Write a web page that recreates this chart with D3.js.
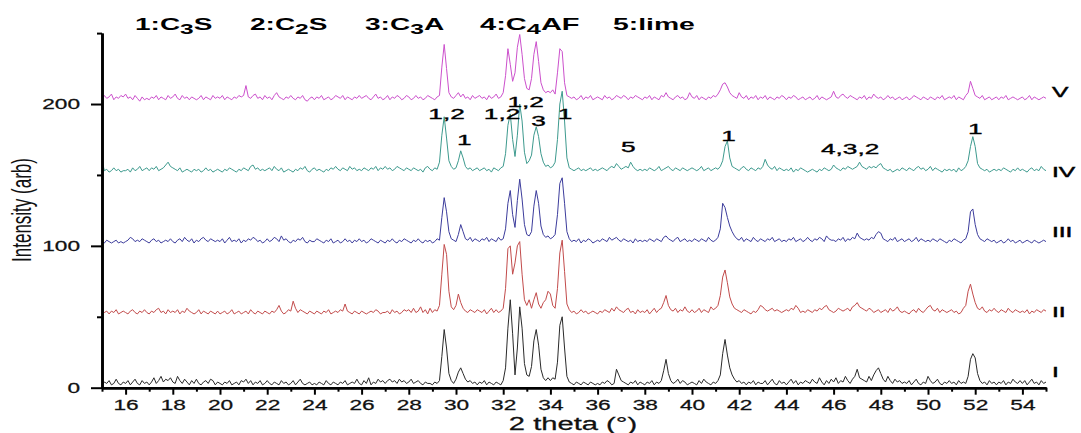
<!DOCTYPE html>
<html><head><meta charset="utf-8">
<script src="https://cdn.jsdelivr.net/npm/d3@7"></script>
<style>body{margin:0;background:#fff}svg{display:block}text{font-family:"Liberation Sans",Arial,sans-serif}</style>
</head><body><svg id="c" width="1081" height="433"></svg>
<script>
// ---- data ----
const thetaStart = 15, thetaStep = 0.1;             // 2theta sampling (deg)
const seriesNames = ["I", "II", "III", "IV", "V"];
const seriesOffsets = [0, 50, 100, 150, 200];        // vertical stacking offsets
// intensities (arb) per 0.1 deg, rows = 1 deg (15.0 ... 54.9), last = 55.0
const patternI = [
2,4,3,5,2,3,6,3,2,4, 3,5,2,4,6,3,2,5,3,4, 2,4,7,3,5,8,4,6,5,7, 4,3,8,5,3,6,4,2,5,3,
6,3,2,4,5,3,6,5,2,4, 3,2,4,3,5,2,3,4,2,5, 4,6,3,5,2,4,3,5,2,3, 5,3,2,4,3,2,5,3,4,2,
3,5,2,4,6,3,2,3,4,2, 3,2,4,3,2,5,3,2,4,3, 2,4,3,5,2,3,4,3,6,3, 2,5,3,7,2,4,3,6,4,5,
3,5,6,4,5,3,6,4,5,3, 4,6,3,4,5,3,2,4,3,3, 2,4,3,5,22,41,28,10,5,3, 6,11,14,10,6,4,5,3,4,2,
4,3,5,2,4,3,2,4,3,2, 5,14,42,62,38,9,28,57,42,17, 9,8,15,33,41,30,13,7,5,7, 5,7,6,18,44,50,28,8,4,3,
2,4,3,2,4,3,2,4,3,2, 3,2,4,3,5,4,2,3,13,9, 5,4,3,2,4,3,5,2,4,3, 2,4,3,5,2,4,3,5,12,20,
10,5,3,4,6,3,5,4,2,3, 4,3,2,5,3,6,4,3,2,4, 3,5,9,24,34,23,14,9,6,4, 5,3,4,2,4,3,5,2,4,3,
3,5,2,4,6,3,2,5,3,4, 2,4,6,3,5,2,4,3,5,4, 3,6,4,3,7,4,2,5,3,6, 4,7,3,5,4,8,5,3,6,8,
13,7,6,5,4,8,5,9,12,14, 10,6,4,8,5,3,6,4,5,3, 4,3,5,2,4,6,3,2,4,3, 8,5,3,4,6,3,2,4,3,5,
3,4,2,5,3,4,3,8,20,24, 21,10,5,3,4,2,5,3,4,2, 4,3,5,2,4,3,6,4,3,5, 3,5,2,4,6,3,4,2,5,3,
4];
const patternII = [
5,3,4,2,4,3,5,2,3,4, 3,2,4,5,3,2,4,3,5,3, 2,4,3,5,6,3,4,2,5,3, 4,3,5,2,4,3,6,4,3,2,
3,5,2,4,3,2,4,3,2,4, 2,3,4,2,3,5,2,3,4,2, 3,4,2,5,3,2,4,3,2,4, 3,2,4,3,5,8,4,2,3,5,
4,11,6,3,5,4,3,2,4,3, 2,4,3,2,4,3,5,2,3,4, 3,5,4,9,4,3,2,4,3,2, 4,3,2,3,4,3,5,4,2,3,
3,4,2,5,3,4,2,3,5,4, 5,3,6,3,4,7,3,5,2,6, 3,5,4,8,30,51,44,18,7,5, 8,16,10,6,4,3,5,4,3,5,
4,3,5,2,4,6,3,5,3,4, 6,20,48,50,30,38,50,53,30,12, 8,12,6,12,17,9,6,10,12,18, 16,8,6,20,45,54,32,9,5,3,
4,2,3,5,3,4,2,3,4,3, 2,4,3,5,4,3,6,4,7,5, 4,3,5,6,3,4,2,5,3,4, 3,5,2,4,6,3,5,6,10,15,
8,5,4,6,3,5,4,7,4,3, 5,3,4,6,3,5,4,3,7,5, 6,8,15,28,33,24,14,9,6,5, 4,3,5,4,3,2,4,3,5,8,
7,5,4,5,6,4,5,4,3,4, 5,4,6,5,8,6,3,4,3,5, 4,3,5,4,6,5,7,8,5,4, 3,4,6,5,4,5,6,4,7,8,
10,7,6,5,4,6,5,3,4,5, 3,4,5,3,6,4,5,7,4,3, 4,3,2,4,5,3,6,4,3,5, 7,8,5,4,6,3,5,4,3,4,
5,3,4,2,3,6,8,18,23,16, 10,6,5,7,4,3,5,4,6,4, 3,5,4,3,6,4,3,5,4,3, 4,3,5,2,4,3,5,4,3,5,
4];
const patternIII = [
3,2,4,3,2,3,4,2,3,2, 3,4,6,5,3,4,3,5,4,3, 2,4,5,3,4,2,3,4,3,5, 3,2,4,5,3,6,4,3,5,2,
4,3,5,6,4,3,5,4,3,4, 3,5,2,4,6,3,4,3,5,2, 4,3,5,4,6,5,3,4,2,3, 5,3,4,6,5,3,7,4,5,3,
2,4,3,5,4,6,3,2,4,3, 3,5,4,3,2,4,3,5,2,3, 4,2,3,5,3,4,2,4,3,5, 3,4,2,3,5,4,3,2,4,3,
2,4,3,5,3,2,4,3,5,4, 3,2,4,3,5,3,2,4,3,4, 2,3,5,4,20,34,24,10,5,4, 3,8,15,10,5,4,6,3,5,4,
3,5,4,6,3,5,4,3,6,4, 5,12,30,39,22,13,32,47,33,15, 8,7,10,28,39,30,14,8,6,7, 5,6,8,22,44,48,30,10,5,3,
4,3,5,2,4,3,5,4,2,3, 4,3,5,4,3,6,4,5,6,4, 3,5,4,3,4,2,5,3,4,3, 4,3,5,4,3,5,4,3,6,7,
5,4,3,5,6,3,4,5,3,4, 3,5,4,3,5,4,3,6,4,3, 4,6,12,30,27,20,14,10,7,5, 4,6,3,5,4,3,6,4,3,5,
4,3,5,4,6,3,4,5,3,4, 3,5,4,6,3,4,5,3,4,6, 4,3,5,4,6,5,3,7,5,4, 4,3,5,4,6,3,5,4,6,5,
9,6,5,4,5,4,6,5,8,10, 9,5,4,3,5,4,6,3,4,5, 3,4,5,3,4,6,3,5,4,3, 4,3,5,4,3,5,4,3,2,4,
3,5,4,3,2,4,5,10,24,26, 15,8,5,4,3,5,4,3,4,2, 3,4,2,3,5,3,4,2,3,4, 2,3,4,3,2,4,3,2,3,4,
3];
const patternIV = [
10,3,4,2,3,5,3,4,2,3, 3,4,2,5,3,4,6,3,4,5, 3,5,4,6,3,4,5,7,9,6, 5,4,3,5,2,3,4,3,2,4,
3,4,2,3,5,3,4,2,3,4, 3,2,4,3,5,4,3,2,4,3, 5,4,3,6,7,4,5,3,4,3, 4,5,3,6,4,3,5,2,3,4,
3,2,4,3,5,4,6,3,2,4, 5,3,4,3,2,4,3,5,4,6, 4,3,5,4,3,6,4,5,3,4, 3,5,4,3,5,4,6,3,5,4,
6,4,5,3,4,6,5,4,3,5, 4,3,5,4,3,4,2,5,6,4, 3,5,4,9,28,41,26,10,6,4, 5,10,17,12,6,4,5,3,4,5,
3,4,5,3,4,2,5,4,3,5, 6,15,35,43,25,13,28,50,38,16, 8,10,14,28,34,27,15,9,6,7, 5,6,9,25,50,59,38,12,5,4,
3,4,5,3,4,3,4,5,3,4, 3,4,5,4,3,5,6,5,8,6, 4,5,6,5,9,6,4,3,4,3, 4,3,5,4,3,4,6,3,4,5,
6,4,3,5,4,3,5,4,3,4, 5,4,3,4,6,3,4,5,3,4, 5,4,6,10,20,24,12,6,5,4, 3,5,6,4,3,5,4,3,5,4,
6,11,7,5,4,6,3,5,4,3, 4,3,5,2,4,3,5,4,3,2, 3,4,3,2,4,3,5,4,3,4, 7,5,4,3,5,4,6,5,4,5,
6,9,6,5,4,6,5,6,5,7, 8,5,4,3,4,2,3,4,3,5, 4,3,5,4,3,5,6,4,5,3, 4,6,3,5,4,3,2,4,3,4,
3,4,2,5,3,4,6,10,20,27, 20,8,5,4,3,4,2,3,4,3, 4,3,5,4,3,2,4,3,5,3, 4,3,2,4,5,3,4,3,6,4,
3];
const patternV = [
3,6,4,5,7,3,5,4,6,5, 7,4,5,3,6,4,2,5,3,4, 3,5,4,6,3,5,4,3,6,4, 5,7,4,3,6,4,5,3,5,4,
3,4,6,3,5,4,3,6,4,5, 4,6,3,5,4,3,5,4,6,5, 6,13,5,4,6,7,4,5,3,6, 4,5,3,6,8,5,4,3,5,4,
6,4,3,5,4,6,3,2,4,5, 3,5,4,6,3,4,5,3,4,6, 5,4,6,3,5,4,3,5,4,6, 4,5,6,4,3,5,7,4,5,3,
4,6,3,5,4,6,5,3,4,6, 5,3,4,6,4,5,3,4,6,5, 4,3,5,6,26,42,25,8,5,4, 6,8,5,7,4,5,3,6,4,5,
6,4,5,3,6,4,5,7,4,5, 8,20,39,28,16,22,40,49,35,18, 11,10,18,35,44,30,15,10,8,9, 8,10,7,22,39,37,15,6,5,4,
5,3,4,6,3,5,4,6,3,4, 5,4,3,6,4,5,3,4,6,5, 4,6,5,3,5,4,6,5,4,3, 5,4,6,3,5,4,3,6,5,8,
5,4,3,5,6,4,5,3,4,8, 5,4,6,3,5,4,3,5,4,6, 5,7,10,14,15,12,8,6,5,4, 8,5,4,6,3,5,4,6,3,5,
4,6,3,5,4,3,5,4,6,5, 3,5,4,6,5,3,4,5,3,4, 5,3,4,6,3,5,4,3,4,5, 9,5,4,6,7,5,4,6,5,4,
3,5,4,6,3,5,4,7,5,4, 5,3,4,6,4,5,3,4,5,3, 4,5,3,4,6,5,4,3,5,4, 3,5,4,3,5,4,6,3,4,5,
4,6,3,5,4,3,6,8,16,11, 6,5,4,6,3,4,5,3,4,5, 3,5,4,6,3,4,5,4,3,4, 5,3,4,6,3,5,4,3,4,5,
4];
const patterns = [patternI, patternII, patternIII, patternIV, patternV];

const xTicksMajor = [16,18,20,22,24,26,28,30,32,34,36,38,40,42,44,46,48,50,52,54];
const xTicksMinor = [15,17,19,21,23,25,27,29,31,33,35,37,39,41,43,45,47,49,51,53,55];
const yTicksMajor = [0, 100, 200];
const yTicksMinor = [50, 150, 250];

const legendParts = [["1:C","3","S"], ["2:C","2","S"], ["3:C","3","A"], ["4:C","4","AF"], ["5:lime"]];
// phase labels over the peaks of pattern IV: [label, 2theta, intensity]
const peakLabelText = ["1,2", "1", "1,2", "1,2", "3", "1", "5", "1", "4,3,2", "1"];
const peakLabelTheta = [29.6, 30.35, 31.95, 32.95, 33.5, 34.62, 37.3, 41.55, 46.7, 52.0];
const peakLabelInt = [189.5, 171, 189.5, 198, 184.5, 189.5, 166.5, 174, 164.5, 179];
// series name labels at right
const nameLabelInt = [7.5, 49.8, 106.2, 148.5, 205];

// ---- styles ----
const colors = ["#2a2a2a", "#c24b4b", "#3c3c9c", "#3d9a8e", "#cc50cc"];
const SX = 1.62;  // horizontal stretch of the reference's lettering

const svg = d3.select("#c");
const x = d3.scaleLinear().domain([15, 55]).range([102, 1046]);
const y = d3.scaleLinear().domain([0, 250]).range([387.7, 33.1]);

// traces
const line = d3.line();
patterns.forEach((p, k) => {
  const pts = p.map((v, i) => [x(thetaStart + i * thetaStep), y(v + seriesOffsets[k])]);
  svg.append("path").attr("d", line(pts)).attr("fill", "none")
    .attr("stroke", colors[k]).attr("stroke-width", 1).attr("stroke-linejoin", "round");
});

function stretchTexts(sel, sx) {
  sel.each(function () {
    const t = d3.select(this);
    const xx = +t.attr("x") || 0, yy = +t.attr("y") || 0;
    t.attr("x", 0).attr("y", 0).attr("transform", `translate(${xx},${yy}) scale(${sx},1)`);
  });
}

// x axis
const gxMin = svg.append("g").attr("transform", `translate(0,${y(0)})`)
  .call(d3.axisBottom(x).tickValues(xTicksMinor).tickSize(4).tickFormat("").tickSizeOuter(0));
const gx = svg.append("g").attr("transform", `translate(0,${y(0)})`)
  .call(d3.axisBottom(x).tickValues(xTicksMajor).tickSize(7).tickPadding(5).tickSizeOuter(0));
// y axis
const gyMin = svg.append("g").attr("transform", `translate(${x(15)},0)`)
  .call(d3.axisLeft(y).tickValues(yTicksMinor).tickSize(5).tickFormat("").tickSizeOuter(0));
const gy = svg.append("g").attr("transform", `translate(${x(15)},0)`)
  .call(d3.axisLeft(y).tickValues(yTicksMajor).tickSize(11).tickPadding(11).tickSizeOuter(0));

[gxMin, gx, gyMin, gy].forEach(g => {
  g.select(".domain").attr("stroke", "#000").attr("stroke-width", 2.6);
  g.selectAll(".tick line").attr("stroke", "#000").attr("stroke-width", 2);
  g.selectAll("text").attr("font-size", 14).attr("fill", "#111")
    .attr("stroke", "#111").attr("stroke-width", 0.25)
    .attr("font-family", '"Liberation Sans",Arial,sans-serif');
});
stretchTexts(gx.selectAll(".tick text"), SX);
stretchTexts(gy.selectAll(".tick text"), SX);

// axis titles
svg.append("text").attr("transform", `translate(573,430) scale(${SX},1)`)
  .attr("text-anchor", "middle").attr("font-size", 18).attr("fill", "#111")
  .attr("stroke", "#111").attr("stroke-width", 0.25).text("2 theta (°)");
svg.append("text").attr("transform", `translate(31,210) scale(${SX},1) rotate(-90)`)
  .attr("text-anchor", "middle").attr("font-size", 17).attr("fill", "#111").text("Intensity (arb)");

// legend
const legendSpan = [[135, 213], [250, 328], [365, 445], [480, 580], [613, 695]];
legendParts.forEach((parts, i) => {
  const t = svg.append("text").attr("font-size", 16).attr("font-weight", "bold").attr("fill", "#000");
  parts.forEach((s, j) => {
    const ts = t.append("tspan").text(s);
    if (j === 1) ts.attr("dy", 4).attr("font-size", 14);
    if (j === 2) ts.attr("dy", -4);
  });
  const w = t.node().getBBox().width;
  const [a, b] = legendSpan[i];
  t.attr("transform", `translate(${a},29.5) scale(${(b - a) / w},1)`);
});

// peak labels
peakLabelText.forEach((s, i) => {
  svg.append("text").attr("transform", `translate(${x(peakLabelTheta[i])},${y(peakLabelInt[i])}) scale(1.75,1)`)
    .attr("text-anchor", "middle").attr("font-size", 15).attr("fill", "#000")
    .attr("stroke", "#000").attr("stroke-width", 0.35).text(s);
});

// series names
seriesNames.forEach((s, i) => {
  svg.append("text").attr("transform", `translate(${x(55.25)},${y(nameLabelInt[i])}) scale(1.7,1)`)
    .attr("font-size", 14.5).attr("fill", "#000").attr("stroke", "#000").attr("stroke-width", 0.45).text(s);
});
</script></body></html>
